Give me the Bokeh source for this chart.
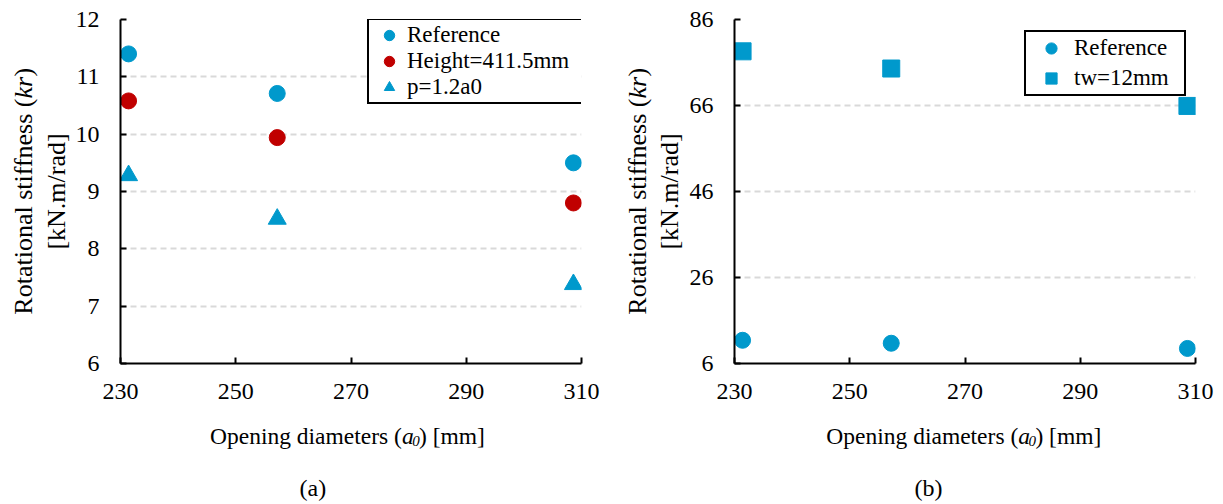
import math
from bokeh.plotting import figure
from bokeh.models import Range1d, FixedTicker, Label, Legend, LegendItem
from bokeh.layouts import row, column
from bokeh.embed import file_html
from bokeh.resources import INLINE

# ---------------- data ----------------
opening = [231.4, 257.2, 308.6]          # opening diameters a0 [mm]
ref_a = [11.40, 10.71, 9.50]             # panel (a) Reference
height_a = [10.58, 9.94, 8.80]           # panel (a) Height=411.5mm
pitch_a = [9.28, 8.52, 7.38]             # panel (a) p=1.2a0
ref_b = [11.40, 10.71, 9.50]             # panel (b) Reference
tw_b = [78.6, 74.6, 65.9]                # panel (b) tw=12mm

x_ticks = [230, 250, 270, 290, 310]
y_ticks_a = [6, 7, 8, 9, 10, 11, 12]
y_ticks_b = [6, 26, 46, 66, 86]

BLUE = "#0099CC"
RED = "#C00000"
FONT = "Liberation Serif"

MAIN_H = 413


def canvas(w, h):
    c = figure(width=w, height=h, x_range=Range1d(0, w), y_range=Range1d(0, h),
               x_axis_type=None, y_axis_type=None, output_backend="svg",
               toolbar_location=None, min_border=0)
    c.outline_line_color = None
    c.background_fill_color = "white"
    c.border_fill_color = "white"
    return c


def lab(c, x, y, text, size, align="left", baseline="alphabetic", italic=False, angle=0.0):
    c.add_layout(Label(x=x, y=y, text=text, text_font=FONT, text_font_size=size,
                       text_font_style="italic" if italic else "normal",
                       text_align=align, text_baseline=baseline, angle=angle,
                       text_color="black"))


def main_fig(width, left, right, yr, yticks):
    p = figure(width=width, height=MAIN_H, x_range=Range1d(230, 310), y_range=Range1d(*yr),
               output_backend="svg", toolbar_location=None,
               min_border_left=left, min_border_right=right,
               min_border_top=19, min_border_bottom=MAIN_H - 363)
    p.outline_line_color = None
    p.background_fill_color = "white"
    p.border_fill_color = "white"
    p.xaxis.ticker = FixedTicker(ticks=x_ticks)
    p.yaxis.ticker = FixedTicker(ticks=yticks)
    for ax in (p.xaxis, p.yaxis):
        ax.axis_line_color = "black"
        ax.axis_line_width = 2
        ax.major_tick_line_color = "black"
        ax.major_tick_line_width = 2
        ax.major_tick_in = 6
        ax.major_tick_out = 0
        ax.minor_tick_line_color = None
        ax.major_label_text_font = FONT
        ax.major_label_text_font_size = "24px"
        ax.major_label_text_color = "black"
    p.xaxis.major_label_standoff = 20
    p.yaxis.major_label_standoff = 21
    p.xgrid.visible = False
    p.ygrid.grid_line_color = "#D9D9D9"
    p.ygrid.grid_line_dash = "6 4"
    p.ygrid.grid_line_width = 2
    return p


def y_title(c, x1, x2):
    fs = "26px"
    ang = math.pi / 2
    B = 406
    lab(c, x1, B, "Rotational stiffness (", fs, align="right", baseline="middle", angle=ang)
    lab(c, x1, B, "kr", fs, align="left", baseline="middle", italic=True, angle=ang)
    lab(c, x1, B + 22, ")", fs, align="left", baseline="middle", angle=ang)
    lab(c, x2, 313, "[kN.m/rad]", fs, align="center", baseline="middle", angle=ang)


def x_title(c, A, cap_x, cap):
    fs = "23.5px"
    lab(c, A, 69, "Opening diameters (", fs, align="right")
    lab(c, A, 69, "a", fs, italic=True)
    lab(c, A + 12, 64, "0", "15px", italic=True)
    lab(c, A + 20, 69, ") [mm]", fs)
    lab(c, cap_x, 17, cap, "24px", align="center", baseline="middle")


def legend(items, loc, rows_h, spacing, gw, lw):
    return Legend(items=items, location=loc, margin=0, padding=2, spacing=spacing,
                  glyph_width=gw, glyph_height=rows_h, label_height=rows_h, label_width=lw,
                  label_standoff=0, label_text_font=FONT, label_text_font_size="23px",
                  label_text_color="black",
                  border_line_color="black", border_line_width=2, border_line_alpha=1.0,
                  background_fill_color="white", background_fill_alpha=1.0)


# ---------------- panel (a) ----------------
YA_W = 72
pa = main_fig(611 - YA_W, 48, 30, (6, 12), y_ticks_a)
r1 = pa.scatter(opening, ref_a, marker="circle", size=16, fill_color=BLUE, line_color=BLUE)
r2 = pa.scatter(opening, height_a, marker="circle", size=16, fill_color=RED, line_color=RED)
r3 = pa.scatter(opening, pitch_a, marker="triangle", size=18, fill_color=BLUE, line_color=BLUE)
pa.add_layout(legend([LegendItem(label="Reference", renderers=[r1]),
                      LegendItem(label="Height=411.5mm", renderers=[r2]),
                      LegendItem(label="p=1.2a0", renderers=[r3])],
                     (247, 259), 26, 0, 36, 172))

ya = canvas(YA_W, 504)
y_title(ya, 23, 55.5)
xa = canvas(611 - YA_W, 504 - MAIN_H)
x_title(xa, 48 + 281, 48 + 177, "(a)")

# ---------------- panel (b) ----------------
YB_W = 75
pb = main_fig(612 - YB_W, 48, 28, (6, 86), y_ticks_b)
s1 = pb.scatter(opening, ref_b, marker="circle", size=16, fill_color=BLUE, line_color=BLUE)
s2 = pb.scatter(opening, tw_b, marker="square", size=17, fill_color=BLUE, line_color=BLUE)
pb.add_layout(legend([LegendItem(label="Reference", renderers=[s1]),
                      LegendItem(label="tw=12mm", renderers=[s2])],
                     (290, 267), 28, 2, 46, 108))

yb = canvas(YB_W, 504)
y_title(yb, 26, 58)
xb = canvas(612 - YB_W, 504 - MAIN_H)
x_title(xb, 48 + 282.5, 48 + 178, "(b)")

layout = row(ya, column(pa, xa), yb, column(pb, xb))
open("out.html", "w").write(file_html(layout, INLINE))
